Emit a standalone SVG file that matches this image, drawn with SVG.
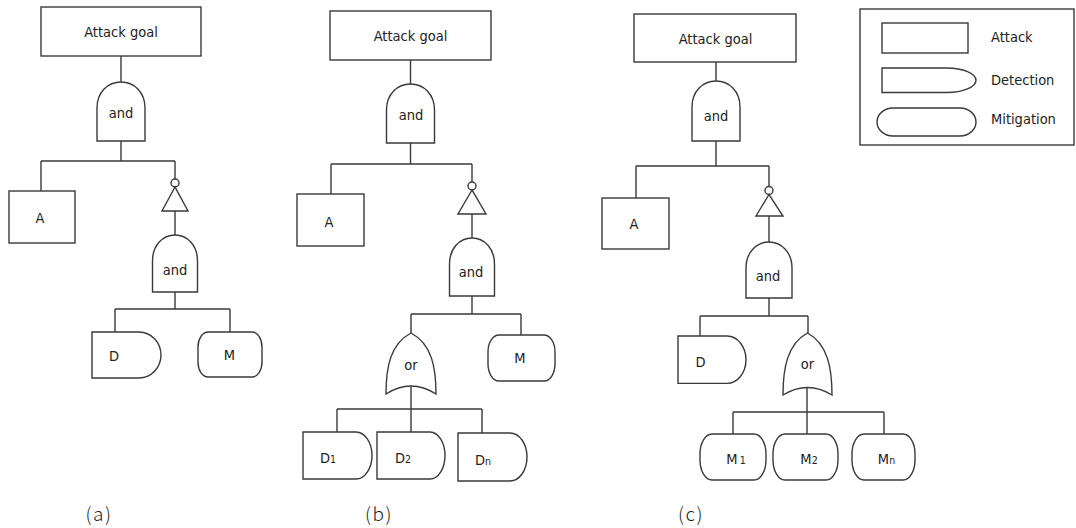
<svg xmlns="http://www.w3.org/2000/svg" width="1076" height="528" viewBox="0 0 1076 528">
<style>
.s{fill:#fff;stroke:#3a3a3a;stroke-width:1.4}
.c{fill:none;stroke:#3a3a3a;stroke-width:1.4}
.t{font-family:"DejaVu Sans Condensed","DejaVu Sans","Liberation Sans",sans-serif;font-stretch:condensed;font-size:14.5px;fill:#222;text-anchor:middle}
.l{text-anchor:start}
.sub{font-size:10.5px}
.cap{font-family:"Noto Sans CJK KR","Noto Sans",sans-serif;font-size:19px;font-weight:300;fill:#222;text-anchor:middle;letter-spacing:1.5px}
</style>
<rect width="1076" height="528" fill="#fff"/>
<g id="connectors">
<path class="c" d="M121,56V82M121,141V161M41,161H175M41,161V191M175,161V179M175,211V235M175,292V309M115,309H230M115,309V332M230,309V332"/>
<path class="c" d="M410.5,60V84M410.5,143V164M331,164H472M331,164V194M472,164V182M472,214V238M472,296V314M411,314H521M411,314V333M521,314V335M411,386V432M337,409H482M337,409V432M482,409V433"/>
<path class="c" d="M716,62V81M716,141V166M636,166H769M636,166V198M769,166V186.5M769,216V242M769,298V316M700,316H808M700,316V336M808,316V333M807,388V434M733,412H884M733,412V434M884,412V434"/>
</g>
<!-- (a) -->
<g id="a-goal"><rect class="s" x="41" y="7" width="160" height="49"/><text class="t" x="121" y="37">Attack goal</text></g>
<g id="a-and1"><path class="s" d="M97,141V108C97,92 108,82 121,82C134,82 145,92 145,108V141Z"/><text class="t" x="121" y="118">and</text></g>
<g id="a-A"><rect class="s" x="9" y="191" width="66" height="52"/><text class="t" x="40" y="223">A</text></g>
<g id="a-not"><circle class="s" cx="175" cy="183" r="4"/><path class="s" d="M175,187L162,211H188Z"/></g>
<g id="a-and2"><path class="s" d="M152.5,292V261C152.5,245 163,235 175,235C187,235 197.5,245 197.5,261V292Z"/><text class="t" x="175" y="274.5">and</text></g>
<g id="a-D"><path class="s" d="M92,332H139A22,23 0 0 1 139,378H92Z"/><text class="t" x="114" y="360.5">D</text></g>
<g id="a-M"><rect class="s" x="198" y="332" width="64" height="45" rx="10" ry="15"/><text class="t" x="229.5" y="360">M</text></g>
<!-- (b) -->
<g id="b-goal"><rect class="s" x="330" y="11" width="161" height="49"/><text class="t" x="410.5" y="40.5">Attack goal</text></g>
<g id="b-and1"><path class="s" d="M386.5,143V110C386.5,94 397.5,84 410.5,84C423.5,84 434.5,94 434.5,110V143Z"/><text class="t" x="411" y="119.5">and</text></g>
<g id="b-A"><rect class="s" x="297" y="194" width="67" height="52"/><text class="t" x="329" y="226.5">A</text></g>
<g id="b-not"><circle class="s" cx="472" cy="186" r="4"/><path class="s" d="M472,190L458,214H486Z"/></g>
<g id="b-and2"><path class="s" d="M449.5,296V264C449.5,248 460,238 472,238C484,238 494.5,248 494.5,264V296Z"/><text class="t" x="471" y="277">and</text></g>
<g id="b-or"><path class="s" d="M386,394Q411,378 436,394C436,368 432,344 411,333C390,344 386,368 386,394Z"/><text class="t" x="411" y="370">or</text></g>
<g id="b-M"><rect class="s" x="488" y="335" width="67" height="46" rx="11" ry="17"/><text class="t" x="520" y="363">M</text></g>
<g id="b-D1"><path class="s" d="M303,432H356A16,23.5 0 0 1 356,479H303Z"/><text class="t" x="328" y="463">D<tspan class="sub">1</tspan></text></g>
<g id="b-D2"><path class="s" d="M377,432H430A15,23.5 0 0 1 430,479H377Z"/><text class="t" x="403" y="463">D<tspan class="sub">2</tspan></text></g>
<g id="b-Dn"><path class="s" d="M458,433H510A17,24 0 0 1 510,481H458Z"/><text class="t" x="483" y="465">D<tspan class="sub">n</tspan></text></g>
<!-- (c) -->
<g id="c-goal"><rect class="s" x="634" y="14" width="162" height="48"/><text class="t" x="715.5" y="43.5">Attack goal</text></g>
<g id="c-and1"><path class="s" d="M692,141V107C692,91 703,81 716,81C729,81 740,91 740,107V141Z"/><text class="t" x="716" y="121">and</text></g>
<g id="c-A"><rect class="s" x="602" y="198" width="67" height="51"/><text class="t" x="634" y="229">A</text></g>
<g id="c-not"><circle class="s" cx="769" cy="190.5" r="4"/><path class="s" d="M769,194.5L756,216H783Z"/></g>
<g id="c-and2"><path class="s" d="M746,298V268C746,252 757,242 769,242C781,242 792,252 792,268V298Z"/><text class="t" x="768" y="280.5">and</text></g>
<g id="c-D"><path class="s" d="M678,336H727A19,23.7 0 0 1 727,383.4H678Z"/><text class="t" x="700.5" y="366.5">D</text></g>
<g id="c-or"><path class="s" d="M783,395Q807.5,380 832,395C832,369 828,344 807.5,333C787,344 783,369 783,395Z"/><text class="t" x="807.5" y="369">or</text></g>
<g id="c-M1"><rect class="s" x="700" y="434" width="66" height="46" rx="12" ry="20"/><text class="t" x="736" y="464">M<tspan class="sub" dx="2">1</tspan></text></g>
<g id="c-M2"><rect class="s" x="773" y="434" width="65" height="46" rx="12" ry="20"/><text class="t" x="809" y="464">M<tspan class="sub">2</tspan></text></g>
<g id="c-Mn"><rect class="s" x="852" y="434" width="63" height="46" rx="12" ry="20"/><text class="t" x="886.5" y="464">M<tspan class="sub">n</tspan></text></g>
<!-- legend -->
<g id="legend">
<rect class="s" x="860" y="9" width="214" height="136" stroke="#555"/>
<rect class="s" x="882" y="23" width="86" height="30"/>
<text class="t l" x="991" y="41.5">Attack</text>
<path class="s" d="M882,68H947A29,12.25 0 0 1 947,92.5H882Z"/>
<text class="t l" x="991" y="85">Detection</text>
<rect class="s" x="877" y="108" width="99" height="28" rx="16" ry="14"/>
<text class="t l" x="991" y="123.5">Mitigation</text>
</g>
<g id="captions">
<text class="cap" x="99" y="521">(a)</text>
<text class="cap" x="379" y="521">(b)</text>
<text class="cap" x="691" y="521">(c)</text>
</g>
</svg>
